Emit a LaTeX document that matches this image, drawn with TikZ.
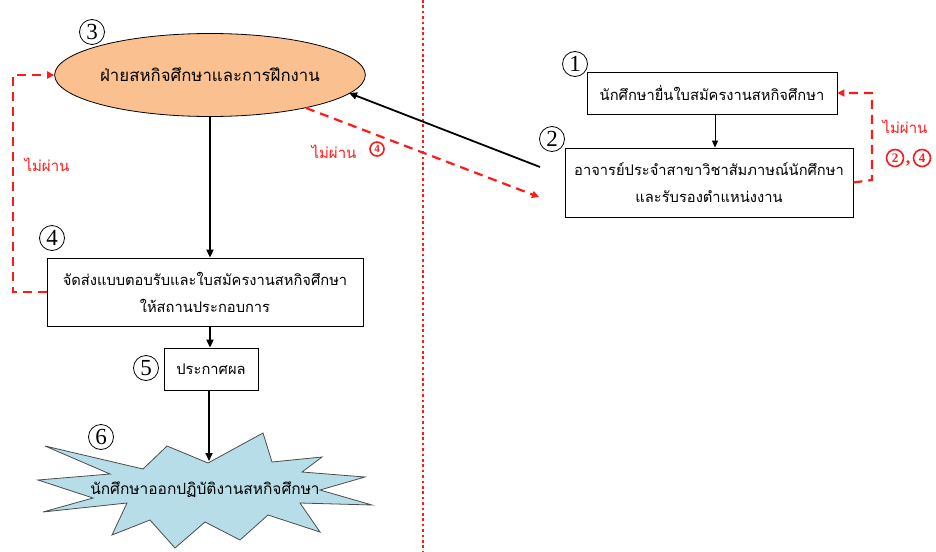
\documentclass[tikz,border=0pt]{standalone}
\usepackage{fontspec}
\setmainfont[Script=Thai]{Loma}
\newfontfamily\numfont{Liberation Serif}
\usetikzlibrary{shapes.geometric,arrows.meta}
\definecolor{peach}{HTML}{FAC090}
\definecolor{ice}{HTML}{B7DEE8}
\definecolor{redd}{HTML}{FF1A1A}
\begin{document}
\begin{tikzpicture}[x=1pt,y=-1pt,
  box/.style={draw=black, line width=0.8pt, fill=white, align=center, inner sep=0pt, font=\fontsize{14.7}{27}\selectfont},
  num/.style={circle, draw=black, line width=0.8pt, minimum size=25pt, inner sep=0pt, font=\numfont\fontsize{23}{23}\selectfont},
  rnum/.style={circle, draw=redd, text=redd, line width=1.6pt, inner sep=0pt, font=\numfont\bfseries\fontsize{13}{13}\selectfont},
  blk/.style={line width=1.8pt, -{Triangle[length=8pt,width=7pt]}},
  thin/.style={line width=1pt, -{Triangle[length=7pt,width=6pt]}},
  rdash/.style={redd, line width=2.2pt, dash pattern=on 9pt off 6pt, -{Triangle[length=7pt,width=7pt]}},
  rlab/.style={text=redd, font=\fontsize{15}{15}\selectfont, inner sep=0pt}]
\useasboundingbox (0,0) rectangle (936,551);
\fill[white] (0,0) rectangle (936,551);
% dotted divider
\draw[redd, line width=2.6pt, dash pattern=on 2.6pt off 2.8pt] (423,0) -- (423,551);
% starburst
\draw[fill=ice, draw=black!70, line width=0.8pt]
 (45,446) -- (143,469) -- (167,446) -- (208,463) -- (263,433) -- (272,462)
 -- (322,457) -- (302,472) -- (365,477) -- (320,490) -- (372,505) -- (300,503)
 -- (320,532) -- (268,515) -- (240,540) -- (205,522) -- (175,548) -- (150,520)
 -- (112,535) -- (127,503) -- (43,512) -- (93,498) -- (38,480) -- (110,474) -- cycle;
\node[font=\fontsize{15.5}{15.5}\selectfont, inner sep=0pt] (star) at (205,490) {นักศึกษาออกปฏิบัติงานสหกิจศึกษา};
\coordinate (startop) at (209,461);
% ellipse
\node[ellipse, draw=black, line width=0.8pt, fill=peach, minimum width=276pt, minimum height=83pt, inner sep=0pt,
  font=\fontsize{16.8}{16.8}\selectfont] (ell) at (210,75) {ฝ่ายสหกิจศึกษาและการฝึกงาน};
% boxes
\node[box, minimum width=316pt, minimum height=68pt] (b4) at (205,292) {จัดส่งแบบตอบรับและใบสมัครงานสหกิจศึกษา\\ให้สถานประกอบการ};
\node[box, minimum width=94pt, minimum height=42pt] (b5) at (211,369) {ประกาศผล};
\node[box, minimum width=250pt, minimum height=42pt] (b1) at (712,93) {นักศึกษายื่นใบสมัครงานสหกิจศึกษา};
\node[box, minimum width=288pt, minimum height=69pt] (b2) at (709,182.5) {อาจารย์ประจำสาขาวิชาสัมภาษณ์นักศึกษา\\และรับรองตำแหน่งงาน};
% numbers
\node[num] (n3) at (92,32) {3};
\node[num] (n1) at (575,64) {1};
\node[num] (n2) at (552,139) {2};
\node[num] (n4) at (52,238) {4};
\node[num] (n5) at (146,368) {5};
\node[num] (n6) at (101,437) {6};
% black arrows
\draw[blk] (ell.south) -- (ell.south |- b4.north);
\draw[blk] (b4.south -| ell.south) -- (b5.north -| ell.south);
\draw[blk] (b5.south -| startop) -- (startop);
\draw[thin] (b1.south -| 715,0) -- (b2.north -| 715,0);
\coordinate (fromB2) at (540,167);
\coordinate (toEll) at (349,93);
\draw[blk] (fromB2) -- (toEll);
% red dashed
\coordinate (ellSE) at (306,108);
\coordinate (toB2) at (539,197);
\draw[rdash] (ellSE) -- (toB2);
\node[rlab] (lab1) at (334,152) {ไม่ผ่าน};
\node[rnum, minimum size=14pt, font=\numfont\bfseries\fontsize{11}{11}\selectfont] (lab1n) at (377,149) {4};
\draw[rdash] (b4.west) -- (13,292) |- (ell.west);
\node[rlab] (lab2) at (47,165) {ไม่ผ่าน};
\draw[rdash] (b2.east) -- (872,180) |- (b1.east);
\node[rlab] (lab3) at (905,127) {ไม่ผ่าน};
\node[rnum, minimum size=17pt] (lab4a) at (895,158) {2};
\node[text=redd, font=\numfont\bfseries\fontsize{18}{18}\selectfont, inner sep=0pt, anchor=base] (lab4c) at (908,163) {,};
\node[rnum, minimum size=17pt] (lab4b) at (922,158) {4};
\end{tikzpicture}
\end{document}
